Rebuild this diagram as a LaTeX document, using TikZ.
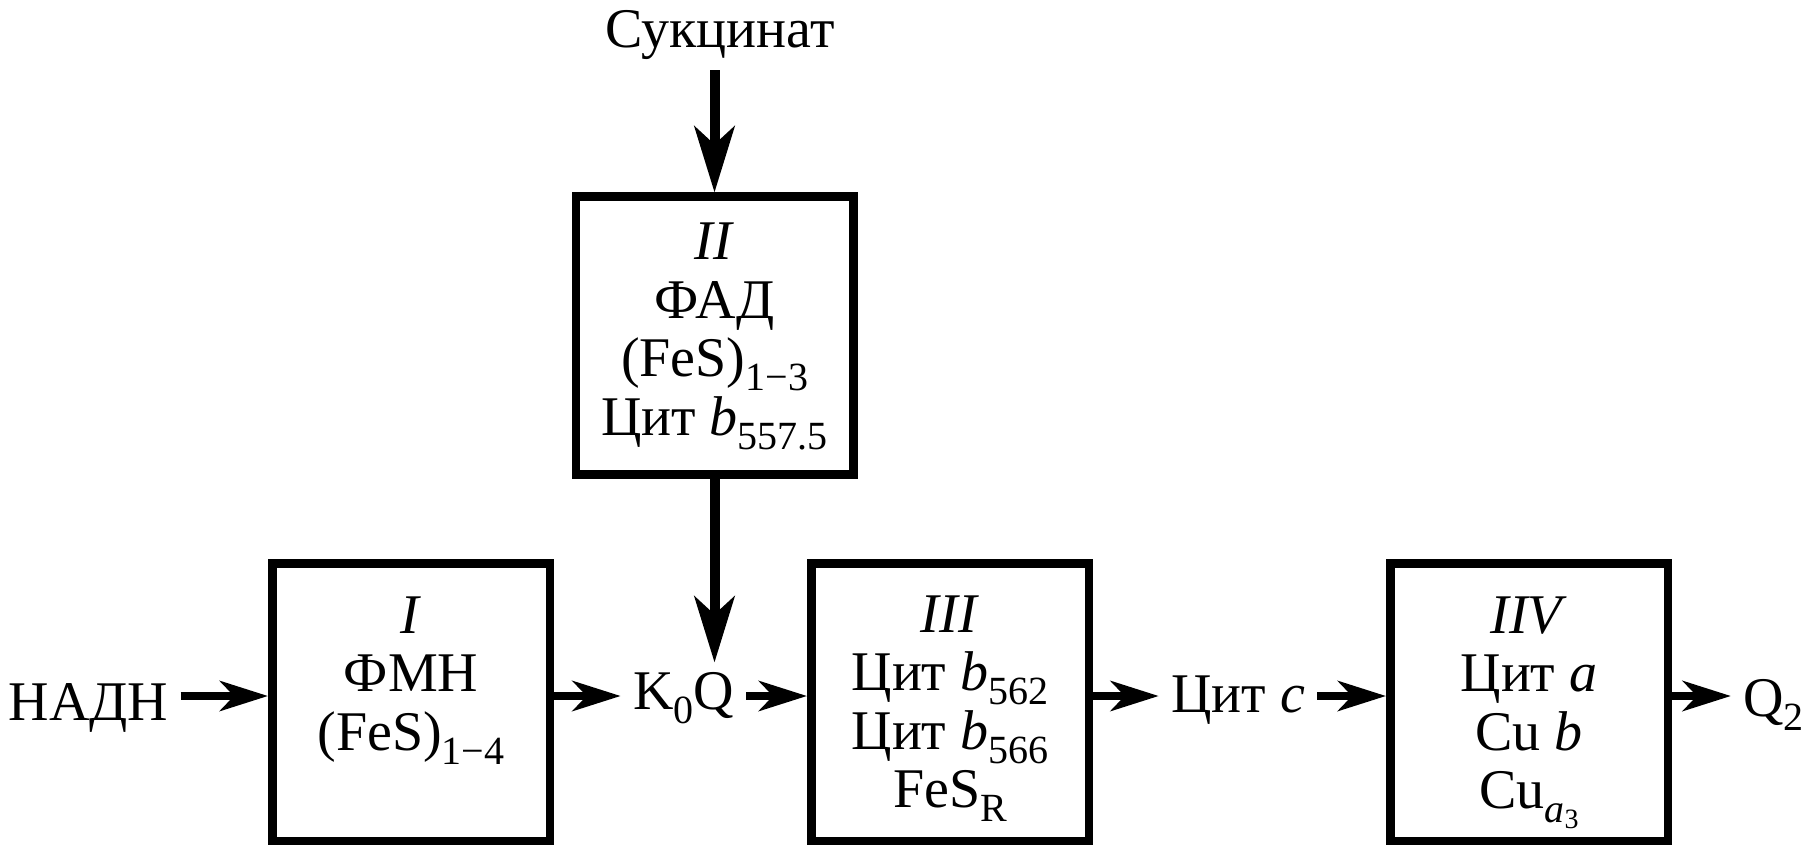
\documentclass[tikz,border=0pt]{standalone}
\usepackage{fontspec}
\setmainfont{Liberation Serif}
\usetikzlibrary{arrows.meta}
\newcommand\sbs[1]{\raisebox{-7pt}{\fontsize{20}{20}\selectfont #1}}
\newcommand\ssbs[1]{\raisebox{-3pt}{\fontsize{14}{14}\selectfont #1}}
\newcommand\boxtext[2]{\begin{minipage}[c][138.75pt][t]{134pt}\centering\rule{0pt}{#1}#2\end{minipage}}
\tikzset{
  every node/.style={font=\fontsize{28}{29.25}\selectfont},
  box/.style={draw, line width=4.25pt, minimum width=138.75pt, minimum height=138.75pt, inner sep=0pt},
  lbl/.style={inner xsep=6pt, inner ysep=5pt, anchor=base},
  harrow/.style={line width=4pt, -{Stealth[length=24pt,width=15pt,inset=7pt]}},
  varrow/.style={line width=5pt, -{Stealth[length=33pt,width=20pt,inset=9pt]}}
}
\begin{document}
\begin{tikzpicture}[x=0.5pt,y=-0.5pt]
\useasboundingbox (0,0) rectangle (1814,845);
\coordinate (row) at (0,696);
% boxes
\node[box] (I)   at (411,702)   {\boxtext{35pt}{\textit{I}\\ФМН\\(FeS)\sbs{1−4}}};
\node[box] (II)  at (714.5,335.5) {\boxtext{31.5pt}{\textit{II}\\ФАД\\(FeS)\sbs{1−3}\\Цит \textit{b}\sbs{557.5}}};
\node[box] (III) at (950,702)   {\boxtext{34.5pt}{\textit{III}\\Цит \textit{b}\sbs{562}\\Цит \textit{b}\sbs{566}\\FeS\sbs{R}}};
\node[box] (IV)  at (1529,702)  {\boxtext{35pt}{\textit{IIV}\\Цит \textit{a}\\Cu \textit{b}\\Cu\sbs{\textit{a}\ssbs{3}}}};
% labels
\node[lbl] (suc)  at (720,48)    {Сукцинат};
\node[lbl] (nadh) at (88.5,720)  {НАДН};
\node[lbl, inner ysep=4.5pt] (kq) at (683.5,709) {K\sbs{0}Q};
\node[lbl] (citc) at (1238,712)  {Цит \textit{c}};
\node[lbl] (q2)   at (1773.5,716) {Q\sbs{2}};
% connectors
\draw[varrow] (suc.south -| II.north) -- (II.north);
\draw[varrow] (II.south) -- (II.south |- kq.north);
\draw[harrow] (nadh.east |- row) -- (I.west |- row);
\draw[harrow] (I.east |- row) -- (kq.west |- row);
\draw[harrow] (kq.east |- row) -- (III.west |- row);
\draw[harrow] (III.east |- row) -- (citc.west |- row);
\draw[harrow] (citc.east |- row) -- (IV.west |- row);
\draw[harrow] (IV.east |- row) -- (q2.west |- row);
\end{tikzpicture}
\end{document}
